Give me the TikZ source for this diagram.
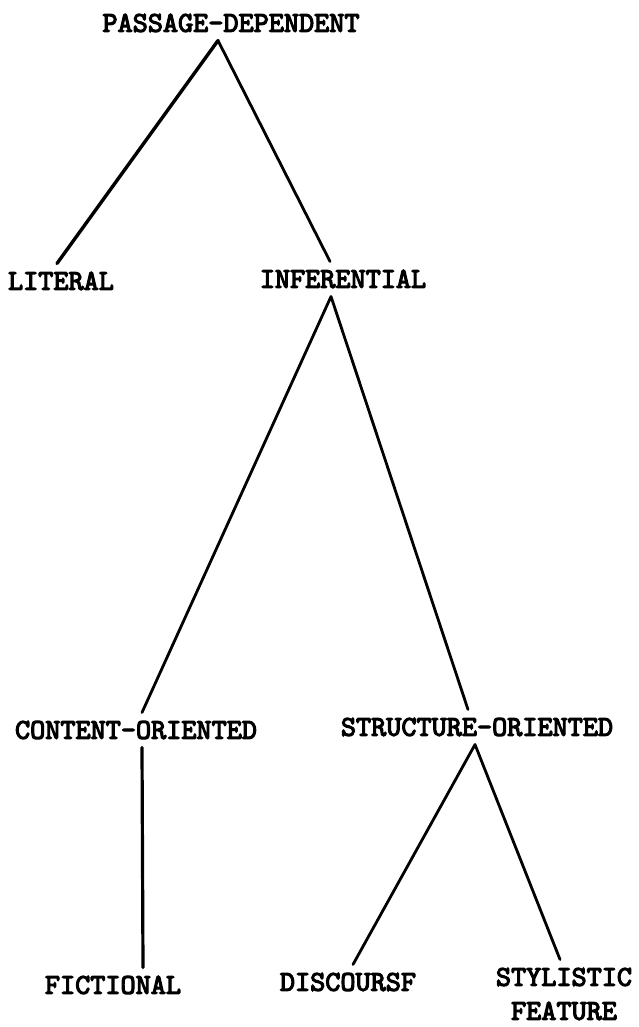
\documentclass[tikz,border=0pt]{standalone}
\usepackage{fontspec}
\newfontfamily\typewriter[FakeBold=4]{lmmono10-regular.otf}
\usepackage{tikz}
\tikzset{every picture/.style={line width=2.8pt}}
\tikzset{
  term/.style={font=\typewriter\fontsize{28.8}{34}\selectfont,
    inner xsep=0pt, inner ysep=7pt, align=center},
  branch/.style={line cap=round, line join=round},
}

\begin{document}
\begin{tikzpicture}[x=1pt,y=-1pt]
    \useasboundingbox (0,0) rectangle (638,1027);

    % top level
    \node[term] (pd) at (231,23) {PASSAGE-DEPENDENT};

    % second level
    \node[term] (lit) at (61,281) {LITERAL};
    \node[term] (inf) at (343,279) {INFERENTIAL};

    % third level
    \node[term] (co) at (136,730) {CONTENT-ORIENTED};
    \node[term] (so) at (477,727) {STRUCTURE-ORIENTED};

    % leaves
    \node[term] (fic) at (113,985) {FICTIONAL};
    \node[term] (dis) at (348,982) {DISCOURSF};
    \node[term] (sty) at (564,994) {STYLISTIC\\FEATURE};

    % passage-dependent splits
    \draw[branch,line width=3.4pt] ([xshift=-13pt]pd.south) -- ([xshift=-4pt]lit.north);
    \draw[branch] ([xshift=-13pt]pd.south) -- ([xshift=-13pt]inf.north);

    % inferential splits
    \draw[branch] ([xshift=6pt]co.north) -- ([xshift=-12pt]inf.south) -- ([xshift=-9pt]so.north);

    % content-oriented
    \draw[branch,line width=3.2pt] ([xshift=6pt]co.south) -- ([xshift=30pt]fic.north);

    % structure-oriented
    \draw[branch] ([xshift=5pt]dis.north) -- ([xshift=-2pt]so.south) -- ([xshift=-4pt]sty.north);
\end{tikzpicture}
\end{document}
